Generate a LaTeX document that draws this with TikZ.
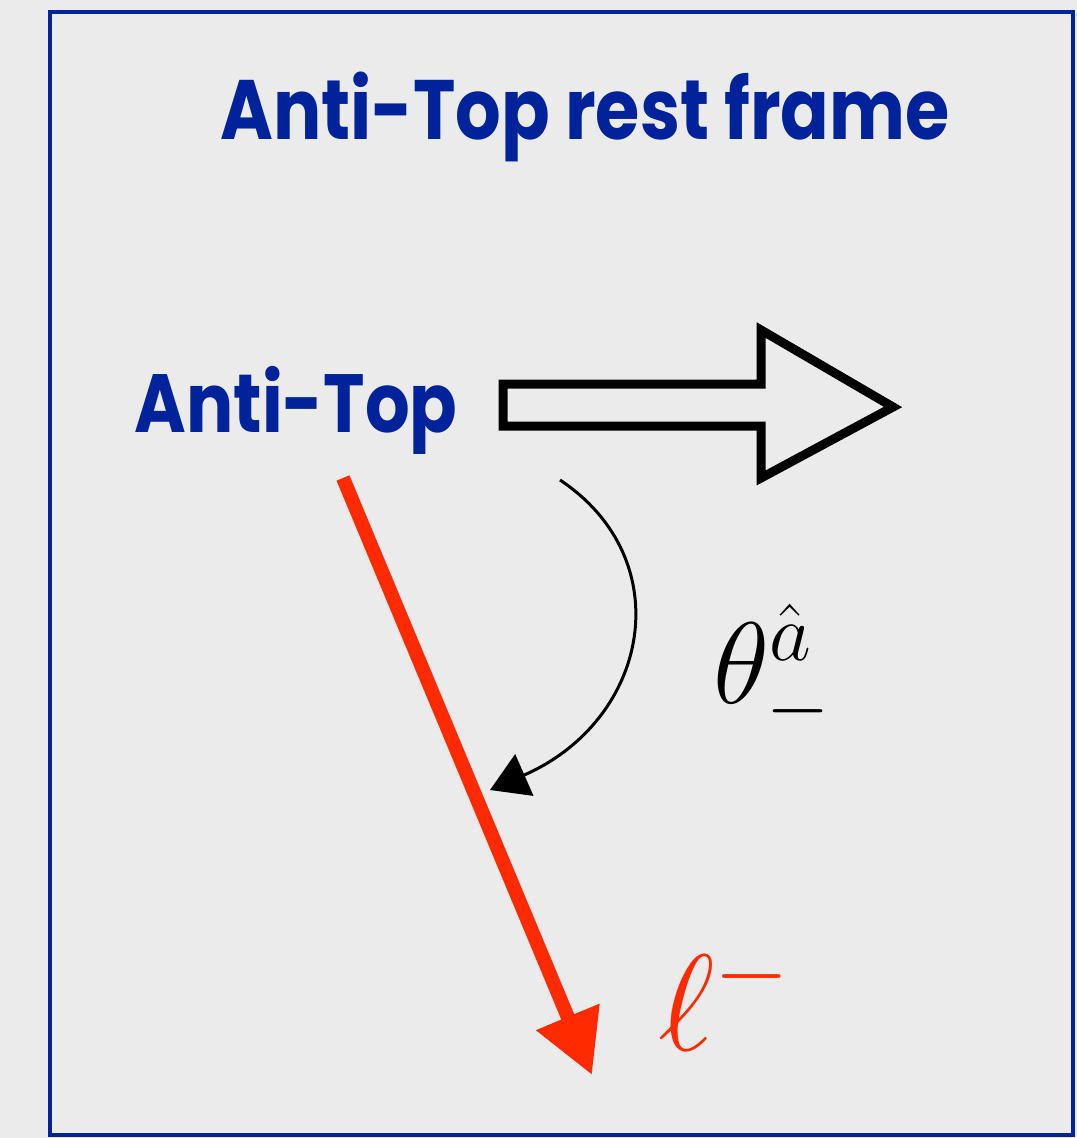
\RequirePackage{fix-cm}
\documentclass[tikz,border=0pt]{standalone}
\usepackage{fontspec}
\newfontfamily\handfont[FakeStretch=0.85]{Poppins}
\usepackage{amsmath}
\usepackage{tikz}
\usetikzlibrary{arrows.meta,positioning,calc}
\definecolor{frameBlue}{HTML}{00229A}
\definecolor{bgGray}{HTML}{EBEBEB}
\definecolor{leptonRed}{HTML}{FF2A00}

\begin{document}
\begin{tikzpicture}[x=0.02cm,y=-0.02cm,
    bluetext/.style={text=frameBlue,inner sep=0pt},
    mathtext/.style={inner sep=0pt}]
    % page and frame
    \fill[bgGray] (0,0) rectangle (1077,1138);
    \draw[frameBlue,line width=0.08cm] (50,12) rectangle (1073,1135);

    \node[bluetext,anchor=base,font=\handfont\bfseries\fontsize{48}{52}\selectfont] (title) at (585,140) {Anti-Top rest frame};
    \node[bluetext,anchor=base,font=\handfont\bfseries\fontsize{47}{52}\selectfont] (antitop) at (296,432) {Anti-Top};

    % direction of the anti-top
    \draw[line width=0.18cm,line join=miter] (503,384) -- (761,384) -- (761,330) -- (893,407)
      -- (761,478) -- (761,426) -- (503,426) -- cycle;

    % lepton direction
    \coordinate (lstart) at (343,478);
    \coordinate (lend) at (592,1075);
    \draw[leptonRed,line width=0.28cm,-{Triangle[length=1.26cm,width=1.3cm]}] (lstart) -- (lend);
    \node[mathtext,anchor=base west,text=leptonRed,font=\fontsize{78}{82}\selectfont] (lepton) at (658,1050) {$\ell^-$};

    % angle
    \coordinate (astart) at (560,480);
    \coordinate (aend) at (490,790);
    \draw[line width=0.06cm,-{Triangle[length=0.75cm,width=0.9cm]}] (astart)
      .. controls (680,560) and (650,720) .. (aend);
    \node[mathtext,anchor=base west,font=\fontsize{66}{70}\selectfont] (angle) at (713,703) {$\theta^{\hat{a}}_{-}$};
\end{tikzpicture}
\end{document}
